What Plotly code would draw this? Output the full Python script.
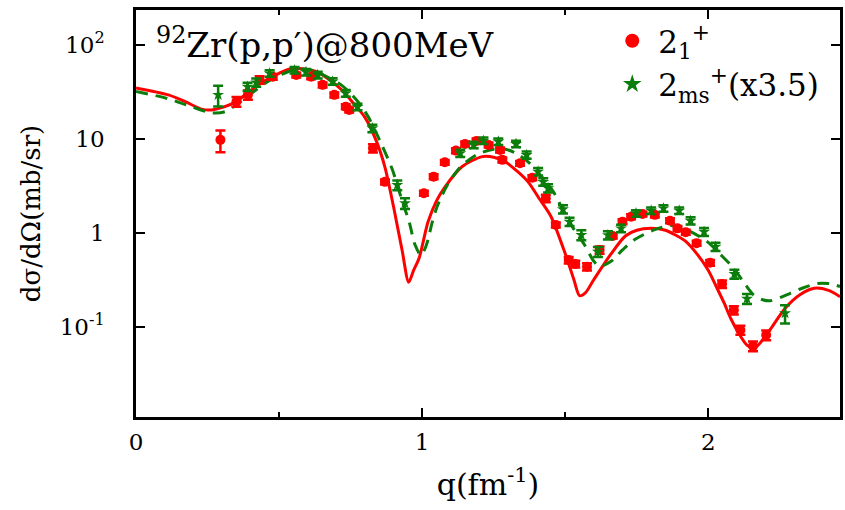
import plotly.graph_objects as go

# ---- data: 2_1+ experimental points ----
red_q = [0.295, 0.351, 0.391, 0.432, 0.478, 0.560, 0.612, 0.652, 0.693, 0.733, 0.745,
         0.828, 0.870, 1.006, 1.040, 1.079, 1.118, 1.150, 1.190, 1.232, 1.272, 1.280,
         1.342, 1.385, 1.432, 1.467, 1.512, 1.535, 1.576, 1.620, 1.666, 1.700, 1.730,
         1.770, 1.813, 1.866, 1.892, 1.921, 1.959, 2.006, 2.048, 2.089, 2.112, 2.156, 2.202]
red_y = [9.8, 25.0, 29.5, 42.6, 46.0, 48.0, 46.0, 37.7, 29.5, 22.1, 20.4,
         8.0, 3.5, 2.65, 3.98, 5.66, 7.53, 8.87, 9.55, 8.65, 7.65, 6.0,
         5.52, 3.88, 2.34, 1.22, 0.515, 0.468, 0.438, 0.66, 0.93, 1.32, 1.49,
         1.59, 1.56, 1.35, 1.12, 1.02, 0.78, 0.483, 0.286, 0.151, 0.0927, 0.0626, 0.082]
red_rel_err = [0.26, 0.12, 0.11, 0.09, 0.07, 0.06, 0.06, 0.06, 0.06, 0.06, 0.06,
               0.10, 0.06, 0.06, 0.06, 0.06, 0.06, 0.06, 0.06, 0.06, 0.06, 0.06,
               0.06, 0.06, 0.09, 0.06, 0.08, 0.08, 0.09, 0.09, 0.06, 0.06, 0.06,
               0.06, 0.06, 0.06, 0.06, 0.06, 0.06, 0.07, 0.09, 0.10, 0.11, 0.12, 0.12]

# ---- data: 2_ms+ (x3.5) experimental points ----
grn_q = [0.287, 0.390, 0.420, 0.467, 0.554, 0.594, 0.635, 0.687, 0.733, 0.774, 0.826,
         0.913, 0.940, 1.133, 1.180, 1.214, 1.266, 1.328, 1.365, 1.405, 1.423, 1.440,
         1.492, 1.515, 1.556, 1.614, 1.649, 1.695, 1.747, 1.800, 1.843, 1.898, 1.938,
         1.985, 2.025, 2.091, 2.135, 2.268]
grn_y = [29.5, 36.0, 40.0, 50.0, 54.0, 51.6, 48.0, 41.0, 30.7, 22.0, 13.0,
         3.24, 2.07, 7.06, 8.65, 9.6, 9.4, 8.87, 6.77, 4.5, 3.5, 3.0,
         1.79, 1.32, 0.953, 0.632, 0.95, 1.12, 1.62, 1.73, 1.83, 1.73, 1.35,
         1.03, 0.715, 0.366, 0.20, 0.14]
grn_rel_err = [0.25, 0.10, 0.10, 0.08, 0.08, 0.08, 0.08, 0.08, 0.08, 0.08, 0.09,
               0.12, 0.13, 0.09, 0.08, 0.08, 0.08, 0.08, 0.09, 0.09, 0.09, 0.10,
               0.10, 0.10, 0.12, 0.12, 0.10, 0.09, 0.08, 0.08, 0.08, 0.08, 0.09,
               0.10, 0.10, 0.11, 0.12, 0.22]

# ---- theory curves ----
red_th_q = [0.0, 0.113, 0.172, 0.229, 0.264, 0.31, 0.35, 0.39, 0.44, 0.50, 0.54, 0.58,
            0.63, 0.68, 0.72, 0.76, 0.80, 0.84, 0.87, 0.90, 0.93, 0.953, 0.97, 0.99,
            1.02, 1.05, 1.08, 1.14, 1.21, 1.25, 1.29, 1.33, 1.37, 1.41, 1.45, 1.50,
            1.53, 1.55, 1.57, 1.60, 1.66, 1.71, 1.75, 1.80, 1.85, 1.88, 1.92, 1.96,
            2.00, 2.03, 2.055, 2.08, 2.11, 2.135, 2.158, 2.18, 2.215, 2.27, 2.32,
            2.37, 2.42, 2.46]
red_th_y = [35.0, 29.5, 25.0, 20.8, 20.4, 22.1, 25.0, 31.0, 40.0, 50.0, 56.0, 56.0,
            52.0, 42.0, 33.0, 24.0, 17.0, 9.5, 5.0, 1.9, 0.65, 0.30, 0.40, 0.55,
            1.3, 2.2, 3.1, 5.1, 6.5, 6.4, 5.75, 4.6, 3.5, 2.3, 1.5, 0.6,
            0.32, 0.215, 0.23, 0.32, 0.6, 0.93, 1.07, 1.12, 1.07, 0.97, 0.82, 0.6,
            0.40, 0.26, 0.18, 0.12, 0.082, 0.064, 0.059, 0.067, 0.093, 0.16, 0.22,
            0.258, 0.245, 0.21]

grn_th_q = [0.0, 0.11, 0.195, 0.264, 0.31, 0.35, 0.39, 0.467, 0.548, 0.60, 0.63,
            0.72, 0.78, 0.814, 0.86, 0.896, 0.93, 0.955, 0.975, 0.996, 1.015, 1.035,
            1.052, 1.087, 1.133, 1.19, 1.25, 1.29, 1.33, 1.376, 1.42, 1.457, 1.49,
            1.53, 1.567, 1.60, 1.62, 1.66, 1.70, 1.74, 1.81, 1.868, 1.92, 1.996,
            2.04, 2.089, 2.13, 2.158, 2.19, 2.216, 2.286, 2.33, 2.38, 2.42, 2.46]
grn_th_y = [32.0, 27.0, 22.0, 19.0, 19.5, 23.0, 28.5, 42.0, 54.0, 55.0, 52.0,
            37.0, 24.0, 16.7, 8.5, 4.7, 2.2, 1.3, 0.75, 0.58, 0.75, 1.3,
            1.9, 3.2, 5.0, 6.8, 7.8, 7.8, 7.0, 5.5, 3.8, 2.8, 1.8,
            1.1, 0.75, 0.5, 0.44, 0.5, 0.66, 0.84, 1.08, 1.2, 1.1, 0.81,
            0.6, 0.42, 0.28, 0.22, 0.195, 0.19, 0.228, 0.26, 0.29, 0.29, 0.27]

y_tickvals = [0.1, 1, 10, 100]
y_ticktext = ["10<sup>-1</sup>", "1", "10", "10<sup>2</sup>"]
x_tickvals = [0, 1, 2]
x_ticktext = ["0", "1", "2"]

RED = "#ff0000"
GREEN = "#0a7d0a"
FONT = "DejaVu Serif"

fig = go.Figure()

fig.add_trace(go.Scatter(x=red_th_q, y=red_th_y, mode="lines",
                         line=dict(color=RED, width=3, shape="spline", smoothing=0.8),
                         showlegend=False, hoverinfo="skip"))
fig.add_trace(go.Scatter(x=grn_th_q, y=grn_th_y, mode="lines",
                         line=dict(color=GREEN, width=3, dash="12px,8px", shape="spline", smoothing=0.8),
                         showlegend=False, hoverinfo="skip"))

fig.add_trace(go.Scatter(
    x=red_q, y=red_y, mode="markers",
    marker=dict(symbol="circle", size=10, color=RED),
    error_y=dict(type="data", array=[v * e for v, e in zip(red_y, red_rel_err)],
                 color=RED, thickness=2.5, width=5),
    showlegend=False))
fig.add_trace(go.Scatter(
    x=grn_q, y=grn_y, mode="markers",
    marker=dict(symbol="star", size=9, color=GREEN),
    error_y=dict(type="data", array=[v * e for v, e in zip(grn_y, grn_rel_err)],
                 color=GREEN, thickness=2.5, width=5),
    showlegend=False))

fig.add_trace(go.Scatter(x=[None], y=[None], mode="markers",
                         marker=dict(symbol="circle", size=14, color=RED),
                         name="2<sub>1</sub><sup>+</sup>"))
fig.add_trace(go.Scatter(x=[None], y=[None], mode="markers",
                         marker=dict(symbol="star", size=14, color=GREEN),
                         name="2<sub>ms</sub><sup>+</sup>(x3.5)"))

fig.add_annotation(text="<sup>92</sup>Zr(p,p\u2032)@800MeV", xref="paper", yref="paper",
                   x=0.025, y=0.92, xanchor="left", yanchor="middle", showarrow=False,
                   font=dict(family=FONT, size=34, color="black"))

axis_common = dict(showgrid=False, zeroline=False, showline=True, linecolor="black",
                   linewidth=2.5, mirror="ticks", ticks="inside", ticklen=9, tickwidth=2,
                   tickcolor="black", tickfont=dict(family=FONT, size=23, color="black"))

fig.update_xaxes(range=[0, 2.46], tickvals=x_tickvals, ticktext=x_ticktext,
                 minor=dict(tickvals=[0.5, 1.5], ticks="inside", ticklen=5, tickwidth=2,
                            tickcolor="black"),
                 title=dict(text="q(fm<sup>-1</sup>)", font=dict(family=FONT, size=30, color="black"),
                            standoff=20),
                 ticklabelstandoff=3, **axis_common)
fig.update_yaxes(type="log", range=[-1.958, 2.373], tickvals=y_tickvals, ticktext=y_ticktext,
                 title=dict(text="d\u03c3/d\u03a9(mb/sr)", font=dict(family=FONT, size=26, color="black"),
                            standoff=12),
                 ticklabelstandoff=24, **axis_common)

fig.update_layout(
    width=845, height=510,
    margin=dict(l=136, r=2, t=10, b=93),
    paper_bgcolor="white", plot_bgcolor="white",
    font=dict(family=FONT),
    legend=dict(x=0.668, y=0.99, xanchor="left", yanchor="top",
                font=dict(family=FONT, size=31, color="black"),
                bgcolor="rgba(0,0,0,0)", itemwidth=42, tracegroupgap=0),
    showlegend=True,
)

fig.write_html("out.html")
